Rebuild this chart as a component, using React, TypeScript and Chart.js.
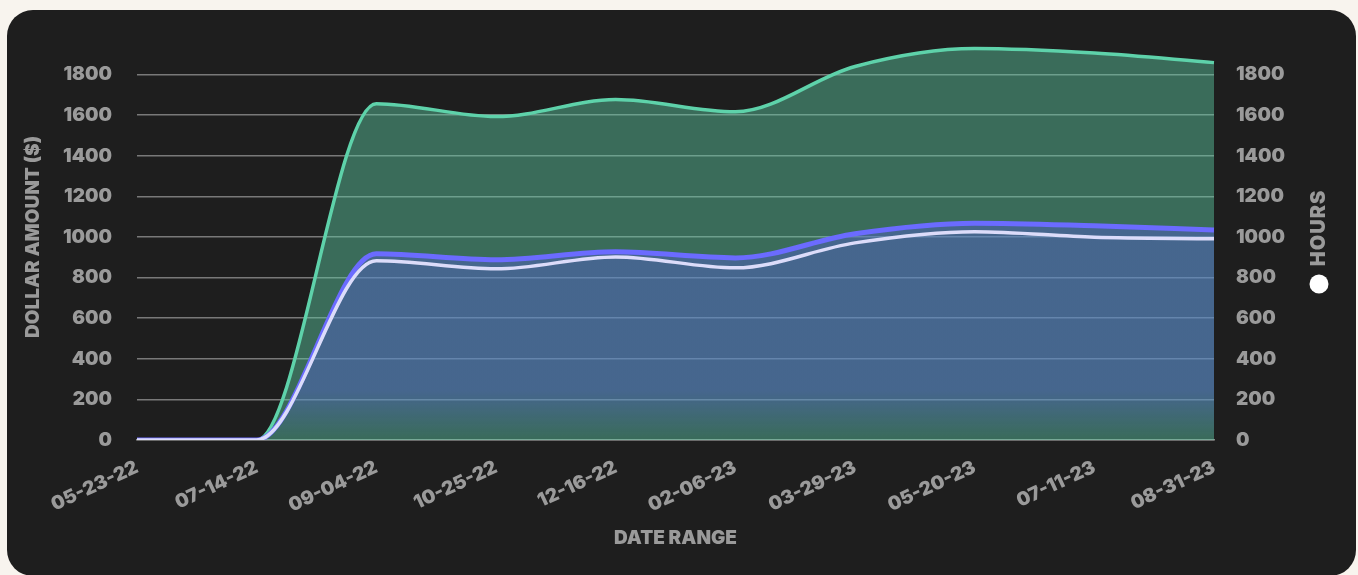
import React, { useEffect, useRef } from "react";
import { Chart, registerables } from "chart.js";

Chart.register(...registerables);

const dateLabels = [
  "05-23-22", "07-14-22", "09-04-22", "10-25-22", "12-16-22",
  "02-06-23", "03-29-23", "05-20-23", "07-11-23", "08-31-23",
];
const greenValues = [0, 0, 1657, 1593, 1677, 1617, 1840, 1928, 1906, 1859];
const blueValues = [0, 0, 917, 888, 927, 897, 1016, 1068, 1055, 1035];
const whiteValues = [0, 0, 883, 843, 902, 848, 971, 1026, 999, 991];
const yTickStep = 200;
const yMax = 2000;
const yAxisTitle = "DOLLAR AMOUNT ($)";
const xAxisTitle = "DATE RANGE";
const legendLabel = "HOURS";

const FONT = "Inter, 'Noto Sans', sans-serif";
const TICK_COLOR = "#9a9a9a";

const hoursLegend = {
  id: "hoursLegend",
  afterDraw(chart: any) {
    const ctx = chart.ctx;
    const x = chart.chartArea.right + 105;
    ctx.save();
    ctx.translate(x, 218);
    ctx.rotate(-Math.PI / 2);
    ctx.font = `900 20px ${FONT}`;
    try { (ctx as any).letterSpacing = "1px"; } catch (e) {}
    ctx.fillStyle = TICK_COLOR;
    ctx.textAlign = "center";
    ctx.textBaseline = "middle";
    ctx.fillText(legendLabel, 0, 0);
    ctx.restore();
    ctx.save();
    ctx.beginPath();
    ctx.arc(x, 274, 9.5, 0, Math.PI * 2);
    ctx.fillStyle = "#ffffff";
    ctx.fill();
    ctx.restore();
  },
};

function blueGradient(context: any) {
  const chart = context.chart;
  const area = chart.chartArea;
  const y = chart.scales.y;
  if (!area || !y) return "rgba(88,94,220,0.4)";
  const top = y.getPixelForValue(1100);
  const bottom = y.getPixelForValue(0);
  const g = chart.ctx.createLinearGradient(0, top, 0, bottom);
  g.addColorStop(0, "rgba(88,94,220,0.4)");
  g.addColorStop(0.78, "rgba(88,94,220,0.4)");
  g.addColorStop(1, "rgba(88,94,220,0)");
  return g;
}

export default function App() {
  const ref = useRef<HTMLCanvasElement | null>(null);
  useEffect(() => {
    if (!ref.current) return;
    const tickFont = { family: FONT, size: 19, weight: 900 as any };
    const chart = new Chart(ref.current, {
      type: "line",
      data: {
        labels: dateLabels,
        datasets: [
          {
            label: "White",
            data: whiteValues,
            borderColor: "#dcdcfa",
            borderWidth: 3.5,
            pointRadius: 0,
            fill: false,
            cubicInterpolationMode: "monotone",
          },
          {
            label: "Blue",
            data: blueValues,
            borderColor: "#6b6bff",
            borderWidth: 5,
            pointRadius: 0,
            fill: "origin",
            backgroundColor: blueGradient,
            cubicInterpolationMode: "monotone",
          },
          {
            label: "Green",
            data: greenValues,
            borderColor: "#5ed2aa",
            borderWidth: 3.5,
            pointRadius: 0,
            fill: "origin",
            backgroundColor: "rgba(94,210,170,0.43)",
            cubicInterpolationMode: "monotone",
          },
        ],
      },
      options: {
        animation: false,
        responsive: true,
        maintainAspectRatio: false,
        layout: { padding: { left: 10, right: 52, top: 24, bottom: 16 } },
        plugins: { legend: { display: false }, tooltip: { enabled: false } },
        scales: {
          x: {
            grid: { display: false },
            border: { display: true, color: "#8a8a8a", width: 1.5 },
            ticks: {
              color: TICK_COLOR,
              font: tickFont,
              minRotation: 25,
              maxRotation: 25,
              autoSkip: false,
              padding: 8,
            },
            title: {
              display: true,
              text: xAxisTitle,
              color: TICK_COLOR,
              font: tickFont,
              padding: { top: 0, bottom: 10 },
            },
            afterFit: (s: any) => { s.height = 120; },
          },
          y: {
            position: "left",
            min: 0,
            max: yMax,
            grid: {
              color: "rgba(160,160,160,0.7)",
              lineWidth: 1.5,
              drawTicks: true,
              tickLength: 22,
              tickColor: "rgba(0,0,0,0)",
            },
            border: { display: false },
            ticks: {
              stepSize: yTickStep,
              color: TICK_COLOR,
              font: tickFont,
              padding: 3,
              callback: (v: any) => String(v),
            },
            afterBuildTicks: (s: any) => { s.ticks = s.ticks.filter((t: any) => t.value < yMax); },
            title: {
              display: true,
              text: yAxisTitle,
              color: TICK_COLOR,
              font: tickFont,
              padding: { top: 5, bottom: 0 },
            },
            afterFit: (s: any) => { s.width = 120; },
          },
          y2: {
            position: "right",
            min: 0,
            max: yMax,
            grid: { display: false, drawTicks: true, tickLength: 19 },
            border: { display: false },
            ticks: {
              stepSize: yTickStep,
              color: TICK_COLOR,
              font: tickFont,
              padding: 3,
              callback: (v: any) => String(v),
            },
            afterBuildTicks: (s: any) => { s.ticks = s.ticks.filter((t: any) => t.value < yMax); },
            afterFit: (s: any) => { s.width = 90; },
          },
        },
      },
      plugins: [hoursLegend],
    });
    return () => chart.destroy();
  }, []);

  return (
    <div style={{ position: "fixed", inset: 0, background: "#f8f4ee" }}>
      <div
        style={{
          position: "absolute",
          left: 7,
          top: 10,
          width: 1349,
          height: 566,
          borderRadius: 26,
          background: "#1e1e1e",
          overflow: "hidden",
        }}
      >
        <canvas ref={ref} />
      </div>
    </div>
  );
}
